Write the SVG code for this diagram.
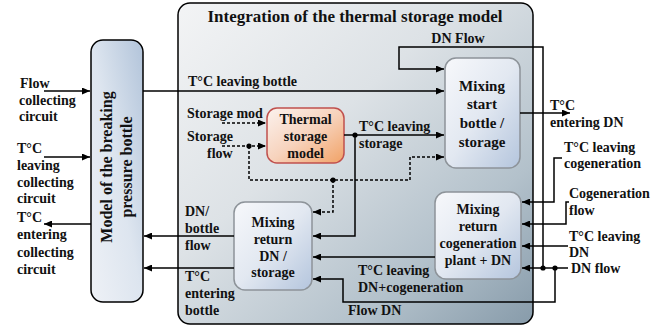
<svg xmlns="http://www.w3.org/2000/svg" width="671" height="329" viewBox="0 0 671 329">
<defs>
<linearGradient id="gBig" x1="0" y1="0" x2="1" y2="1">
<stop offset="0" stop-color="#f3f4f5"/>
<stop offset="0.4" stop-color="#dde2e6"/>
<stop offset="0.75" stop-color="#b3c1cb"/>
<stop offset="1" stop-color="#879baa"/>
</linearGradient>
<linearGradient id="gBottle" x1="0" y1="1" x2="1" y2="0">
<stop offset="0" stop-color="#eef1f6"/>
<stop offset="0.5" stop-color="#dde5ef"/>
<stop offset="1" stop-color="#b2c4da"/>
</linearGradient>
<linearGradient id="gMix" x1="0" y1="0" x2="1" y2="1">
<stop offset="0" stop-color="#f7f8fb"/>
<stop offset="0.5" stop-color="#e2e8f1"/>
<stop offset="1" stop-color="#b4c5dd"/>
</linearGradient>
<linearGradient id="gTherm" x1="0" y1="0" x2="1" y2="1">
<stop offset="0" stop-color="#fbf2ee"/>
<stop offset="0.5" stop-color="#f7d3bd"/>
<stop offset="1" stop-color="#f1a266"/>
</linearGradient>
<marker id="ah" markerUnits="userSpaceOnUse" markerWidth="9" markerHeight="7" refX="8" refY="3.5" orient="auto">
<path d="M0,0 L8,3.5 L0,7 z" fill="#000"/>
</marker>
</defs>
<style>
text{font-family:"Liberation Serif","Times New Roman",serif;font-weight:bold;font-size:14px;fill:#111}
.t17{font-size:17px}
.t16{font-size:16px}
.t15{font-size:15px}
.mid{text-anchor:middle}
.ln{fill:none;stroke:#000;stroke-width:1.5}
.ar{marker-end:url(#ah)}
.dt{stroke-dasharray:3 2}
.dot{fill:#000}
.mix{fill:url(#gMix);stroke:#8d9399;stroke-width:1.5}
</style>

<g id="integration">
<rect x="178" y="3" width="355" height="321" rx="12" fill="url(#gBig)" stroke="#000" stroke-width="1.5"/>
<text class="t17 mid" x="355" y="22">Integration of the thermal storage model</text>
</g>

<g id="bottle">
<rect x="91" y="40" width="52" height="262" rx="12" fill="url(#gBottle)" stroke="#000" stroke-width="1.5"/>
<text class="t16 mid" transform="translate(112,167) rotate(-90)">Model of the breaking</text>
<text class="t16 mid" transform="translate(132,167) rotate(-90)">pressure bottle</text>
</g>

<g id="mixing-start">
<rect class="mix" x="445" y="58" width="75" height="110" rx="11"/>
<text class="t15 mid" x="482" y="91">Mixing</text>
<text class="t15 mid" x="482" y="109">start</text>
<text class="t15 mid" x="482" y="128">bottle /</text>
<text class="t15 mid" x="482" y="147">storage</text>
</g>

<g id="thermal-storage">
<rect x="267" y="108" width="77" height="55" rx="10" fill="url(#gTherm)" stroke="#c0504d" stroke-width="1.5"/>
<text class="mid" x="305.5" y="124">Thermal</text>
<text class="mid" x="305.5" y="141">storage</text>
<text class="mid" x="305.5" y="158">model</text>
</g>

<g id="mixing-return-dn">
<rect class="mix" x="234" y="202" width="78" height="88" rx="11"/>
<text class="mid" x="273" y="227">Mixing</text>
<text class="mid" x="273" y="244">return</text>
<text class="mid" x="273" y="261">DN /</text>
<text class="mid" x="273" y="277">storage</text>
</g>

<g id="mixing-return-cog">
<rect class="mix" x="435" y="192" width="86" height="87" rx="11"/>
<text class="mid" x="478" y="214">Mixing</text>
<text class="mid" x="478" y="231">return</text>
<text class="mid" x="478" y="248">cogeneration</text>
<text class="mid" x="478" y="265">plant + DN</text>
</g>

<g id="connectors">
<path class="ln ar" d="M44 91 H90"/>
<path class="ln ar" d="M44 157 H90"/>
<path class="ln ar" d="M91 224 H44"/>
<path class="ln ar" d="M143 91 H444"/>
<path class="ln ar" d="M543 268 V47 H399 V69 H444"/>
<path class="ln ar dt" d="M222 123 H266"/>
<path class="ln ar dt" d="M222 146 H266"/>
<path class="ln ar dt" d="M249 146 V180 H410 V157 H444"/>
<path class="ln ar dt" d="M333 180 V212 H313"/>
<circle class="dot" cx="249" cy="146" r="2.6"/>
<circle class="dot" cx="333" cy="180" r="2.6"/>
<path class="ln ar" d="M344 135 H444"/>
<path class="ln ar" d="M355 135 V236 H313"/>
<circle class="dot" cx="355" cy="135" r="2.6"/>
<path class="ln ar" d="M520 113 H570"/>
<path class="ln ar" d="M562 158 H554 V202 H522"/>
<path class="ln ar" d="M569 202 H566 V224 H522"/>
<path class="ln ar" d="M568 246 H522"/>
<path class="ln ar" d="M568 268 H522"/>
<circle class="dot" cx="543" cy="268" r="2.6"/>
<circle class="dot" cx="555" cy="268" r="2.6"/>
<path class="ln ar" d="M555 268 V302 H343 V279 H313"/>
<path class="ln ar" d="M435 257 H313"/>
<path class="ln ar" d="M234 236 H144"/>
<path class="ln ar" d="M234 268 H144"/>
</g>

<g id="labels">
<text x="20" y="88">Flow</text>
<text x="19" y="105">collecting</text>
<text x="19" y="121">circuit</text>
<text x="17" y="153">T°C</text>
<text x="17" y="170">leaving</text>
<text x="17" y="187">collecting</text>
<text x="17" y="203">circuit</text>
<text x="17" y="222">T°C</text>
<text x="17" y="239">entering</text>
<text x="17" y="257">collecting</text>
<text x="17" y="274">circuit</text>

<text x="188" y="86">T°C leaving bottle</text>
<text x="187" y="118">Storage mod</text>
<text x="187" y="141">Storage</text>
<text x="207" y="158">flow</text>
<text x="359" y="131">T°C leaving</text>
<text x="359" y="148">storage</text>
<text class="mid" x="458" y="43">DN Flow</text>
<text x="185" y="216">DN/</text>
<text x="185" y="233">bottle</text>
<text x="185" y="250">flow</text>
<text x="185" y="281">T°C</text>
<text x="185" y="298">entering</text>
<text x="185" y="315">bottle</text>
<text x="358" y="275">T°C leaving</text>
<text x="358" y="292">DN+cogeneration</text>
<text x="348" y="315">Flow DN</text>

<text x="550" y="110">T°C</text>
<text x="550" y="127">entering DN</text>
<text x="564" y="152">T°C leaving</text>
<text x="564" y="168">cogeneration</text>
<text x="569" y="198">Cogeneration</text>
<text x="569" y="215">flow</text>
<text x="569" y="241">T°C leaving</text>
<text x="569" y="257">DN</text>
<text x="571" y="273">DN flow</text>
</g>
</svg>
